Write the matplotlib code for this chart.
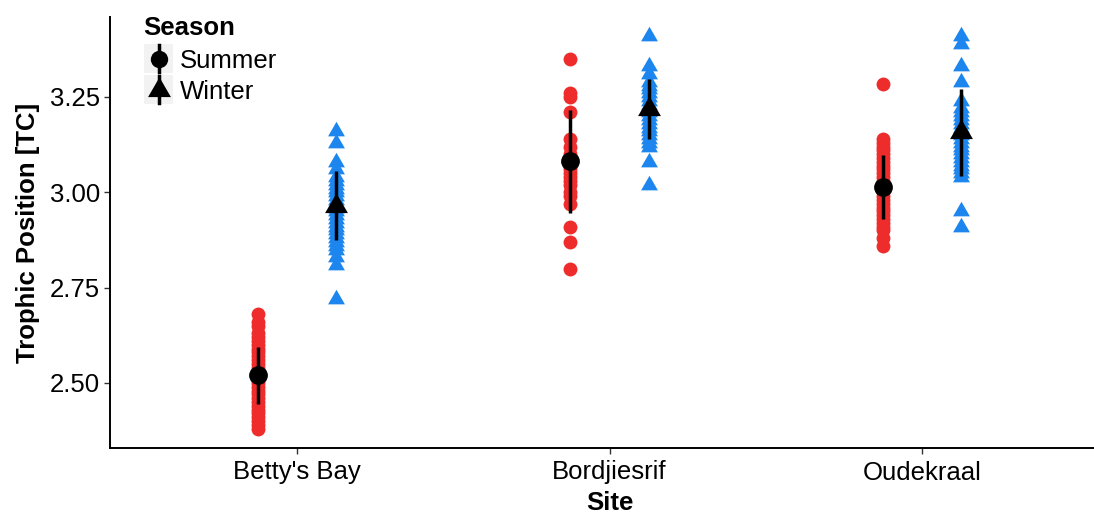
import matplotlib.pyplot as plt
import numpy as np
from matplotlib.lines import Line2D
from matplotlib.patches import Rectangle
from matplotlib.path import Path

plt.rcParams['font.family'] = ['Liberation Sans', 'DejaVu Sans']

# Data
sites = ["Betty's Bay", "Bordjiesrif", "Oudekraal"]
seasons = ['Summer', 'Winter']

betty_summer = [2.68, 2.66, 2.65, 2.63, 2.62, 2.61, 2.60, 2.59, 2.58, 2.57, 2.56, 2.55,
                2.54, 2.53, 2.52, 2.51, 2.50, 2.49, 2.48, 2.47, 2.46, 2.45, 2.44, 2.43,
                2.42, 2.41, 2.40, 2.39, 2.38]
betty_winter = [3.16, 3.13, 3.08, 3.06, 3.04, 3.03, 3.02, 3.01, 3.00, 2.99, 2.98, 2.97,
                2.96, 2.95, 2.94, 2.93, 2.92, 2.91, 2.90, 2.89, 2.88, 2.87, 2.86, 2.85,
                2.83, 2.81, 2.72]
bordj_summer = [3.35, 3.26, 3.25, 3.21, 3.14, 3.12, 3.10, 3.09, 3.08, 3.07, 3.06, 3.05,
                3.04, 3.03, 3.02, 3.00, 2.99, 2.97, 2.91, 2.87, 2.80]
bordj_winter = [3.41, 3.33, 3.31, 3.29, 3.28, 3.27, 3.26, 3.25, 3.24, 3.23, 3.22, 3.21,
                3.20, 3.19, 3.18, 3.17, 3.16, 3.15, 3.14, 3.13, 3.12, 3.08, 3.02]
oude_summer = [3.285, 3.14, 3.13, 3.12, 3.11, 3.10, 3.09, 3.08, 3.07, 3.06, 3.05, 3.04,
               3.03, 3.02, 3.01, 3.00, 2.99, 2.98, 2.97, 2.96, 2.95, 2.94, 2.93, 2.92,
               2.91, 2.90, 2.88, 2.86]
oude_winter = [3.41, 3.39, 3.33, 3.29, 3.24, 3.22, 3.21, 3.20, 3.19, 3.18, 3.17, 3.16,
               3.15, 3.14, 3.13, 3.12, 3.11, 3.10, 3.09, 3.08, 3.07, 3.06, 3.05, 3.04,
               2.95, 2.91]

summer_mean = [2.52, 3.082, 3.014]
summer_sd = [0.075, 0.135, 0.085]
winter_mean = [2.965, 3.218, 3.157]
winter_sd = [0.09, 0.078, 0.115]

yticks = [2.50, 2.75, 3.00, 3.25]

summer_pts = [betty_summer, bordj_summer, oude_summer]
winter_pts = [betty_winter, bordj_winter, oude_winter]

red = '#EE2C2C'
blue = '#1C86EE'
dodge = 0.125

# equilateral triangle, centred on centroid (like R pch 17)
tri = Path([(0, 1.1547), (-1, -0.5774), (1, -0.5774), (0, 1.1547)],
           [Path.MOVETO, Path.LINETO, Path.LINETO, Path.CLOSEPOLY])

W, H = 1094, 513
fig = plt.figure(figsize=(W / 100, H / 100), dpi=100)
ax = fig.add_axes([109.5 / W, 65 / H, 1000 / W, 431 / H])

xpos = np.arange(1, len(sites) + 1)
for i in range(len(sites)):
    ax.plot(np.full(len(summer_pts[i]), xpos[i] - dodge), summer_pts[i], 'o',
            color=red, ms=10, mew=0, zorder=2)
    ax.plot(np.full(len(winter_pts[i]), xpos[i] + dodge), winter_pts[i], ls='none',
            marker=tri, color=blue, ms=14, mew=0, zorder=2)

ax.errorbar(xpos - dodge, summer_mean, yerr=summer_sd, fmt='o', color='black',
            ms=12.5, elinewidth=2.5, capsize=0, zorder=3)
ax.errorbar(xpos + dodge, winter_mean, yerr=winter_sd, fmt='none', ecolor='black',
            elinewidth=2.5, capsize=0, zorder=3)
ax.plot(xpos + dodge, winter_mean, ls='none', marker=tri, color='black', ms=19,
        mew=0, zorder=4)

ax.set_xlim(0.4, 3.6)
ax.set_ylim(2.3295, 3.4598)
ax.set_xticks(xpos)
ax.set_xticklabels(sites)
ax.set_yticks(yticks)
ax.set_yticklabels(['%.2f' % t for t in yticks])

for s in ['top', 'right']:
    ax.spines[s].set_visible(False)
for s in ['left', 'bottom']:
    ax.spines[s].set_linewidth(1.4)
    ax.spines[s].set_color('black')
ax.tick_params(length=4, width=1.0, color='#333333', labelsize=18.5,
               labelcolor='black', pad=3)
ax.tick_params(axis='x', pad=5)

ax.set_xlabel('Site', fontsize=18.5, fontweight='bold')
ax.set_ylabel('Trophic Position [TC]', fontsize=18.5, fontweight='bold')
ax.xaxis.set_label_coords(0.5, -(503 - 448) / 431)
ax.xaxis.label.set_va('center')
ax.yaxis.set_label_coords((28 - 109.5) / 1000, 0.5)
ax.yaxis.label.set_va('center')


# Legend drawn in figure pixels
def fx(x):
    return x / W


def fy(y):
    return 1 - y / H


fig.text(fx(143), fy(35), 'Season', fontsize=18.5, fontweight='bold',
         ha='left', va='baseline')
key_tops = [44, 75]
for k, label in enumerate(seasons):
    top = key_tops[k]
    fig.add_artist(Rectangle((fx(144), fy(top + 29)), 29 / W, 29 / H,
                             transform=fig.transFigure, facecolor='#F2F2F2',
                             edgecolor='none'))
    cx, cy = 158.5, top + 14.5
    fig.add_artist(Line2D([fx(cx), fx(cx)], [fy(top + 1), fy(top + 28)],
                          transform=fig.transFigure, color='black', lw=2.5))
    mk = 'o' if k == 0 else tri
    ms = 12.5 if k == 0 else 19
    fig.add_artist(Line2D([fx(cx)], [fy(cy)], transform=fig.transFigure,
                          ls='none', marker=mk, ms=ms, color='black', mew=0))
    fig.text(fx(180), fy(cy), label, fontsize=18.5, ha='left', va='center_baseline')

fig.savefig('out.png', dpi=100)
